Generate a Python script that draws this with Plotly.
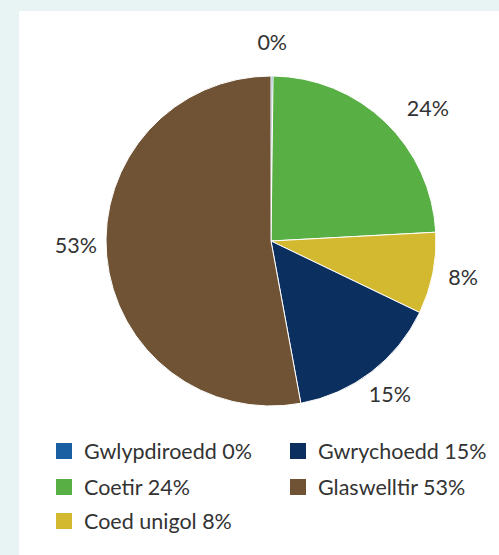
import plotly.graph_objects as go

labels = ["Gwlypdiroedd", "Coetir", "Coed unigol", "Gwrychoedd", "Glaswelltir"]
values = [0.2, 24, 8, 15, 53]
pct_text = ["0%", "24%", "8%", "15%", "53%"]
colors = ["#1b5fa3", "#58af44", "#d3b92f", "#0b2f5e", "#6f5334"]

# legend grid (column, row) of each category in the reference legend
legend_cells = {"Gwlypdiroedd": (0, 0), "Gwrychoedd": (1, 0), "Coetir": (0, 1),
                "Glaswelltir": (1, 1), "Coed unigol": (0, 2)}

W, H = 499, 555
FONT = "Lato"
TXT = "#333333"
FS = 21.5

# pie placement (pixels -> paper)
cx, cy, R = 271, 241, 165
dom = dict(x=[(cx - R) / W, (cx + R) / W], y=[1 - (cy + R) / H, 1 - (cy - R) / H])
RP = 215  # polar overlay radius (px) for the outside labels
pdom = dict(x=[(cx - RP) / W, (cx + RP) / W], y=[1 - (cy + RP) / H, 1 - (cy - RP) / H])

fig = go.Figure()
fig.add_trace(go.Pie(
    labels=labels, values=values, sort=False, direction="clockwise", rotation=0,
    textinfo="none",
    marker=dict(colors=colors, line=dict(color="white", width=1)),
    showlegend=False, automargin=False, domain=dom, hoverinfo="label+percent",
))

# outside percentage labels on a polar overlay at the slice mid-angles
total = sum(values)
mids = []
acc = 0
for v in values:
    mids.append((acc + v / 2) / total * 360)
    acc += v
label_pos = ["middle center", "bottom right", "middle center", "middle center", "top center"]
fig.add_trace(go.Scatterpolar(
    r=[196] * len(values), theta=mids, mode="text", text=pct_text, cliponaxis=False,
    textposition=label_pos, textfont=dict(family=FONT, size=FS, color=TXT),
    showlegend=False, hoverinfo="skip",
))

col_x = [44, 278]
row_y = [451, 487, 521]
layout_legends = {}
for k, name in enumerate(labels):
    i = labels.index(name)
    ln = "legend" if k == 0 else f"legend{k + 1}"
    fig.add_trace(go.Scatter(
        x=[None], y=[None], mode="markers", name=f"{name} {pct_text[i]}",
        marker=dict(symbol="square", size=16, color=colors[i]),
        legend=ln, showlegend=True,
    ))
    c, r = legend_cells[name]
    layout_legends[ln] = dict(orientation="h", xanchor="left", yanchor="middle",
                              x=col_x[c] / W, y=1 - row_y[r] / H, bgcolor="rgba(0,0,0,0)",
                              font=dict(family=FONT, size=FS, color=TXT),
                              itemclick=False, itemdoubleclick=False)

fig.update_layout(
    width=W, height=H, margin=dict(l=0, r=0, t=0, b=0),
    paper_bgcolor="#e8f4f4", plot_bgcolor="rgba(0,0,0,0)",
    xaxis=dict(visible=False), yaxis=dict(visible=False),
    polar=dict(domain=pdom, bgcolor="rgba(0,0,0,0)",
               radialaxis=dict(range=[0, RP], visible=False),
               angularaxis=dict(rotation=90, direction="clockwise", visible=False)),
    shapes=[dict(type="rect", xref="paper", yref="paper", x0=19 / W, x1=1, y0=0, y1=1 - 11 / H,
                 fillcolor="white", line=dict(width=0), layer="below")],
    **layout_legends,
)

fig.write_html("out.html", config={"displayModeBar": False},
               post_script="document.body.style.margin='0px';")
